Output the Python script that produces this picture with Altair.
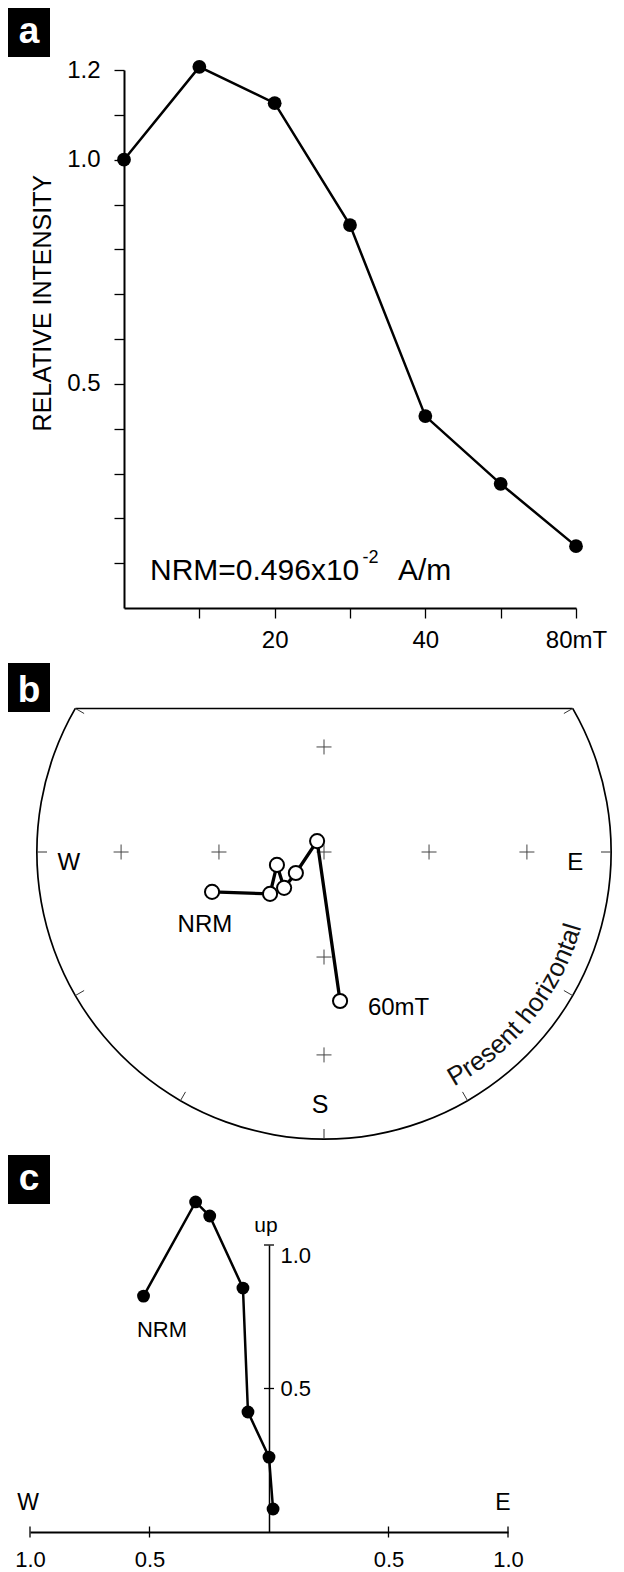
import math
import pandas as pd
import altair as alt

FONT = "Liberation Sans"
W, H = 608, 1564  # drawing area (page minus left/top margin)

# ---------------- panel a : relative intensity during AF demagnetisation
a_step_index = [0, 1, 2, 3, 4, 5, 6]
a_rel_intensity = [1.0, 1.207, 1.126, 0.854, 0.428, 0.277, 0.138]
a_x_tick_values = [1, 2, 3, 4, 5, 6]
a_x_tick_labels = ["", "20", "", "40", "", "\u00a0\u00a080mT"]
a_y_tick_values = [0.1, 0.2, 0.3, 0.4, 0.5, 0.6, 0.7, 0.8, 0.9, 1.0, 1.1, 1.2]
a_y_tick_labels = ["", "", "", "", "0.5", "", "", "", "", "1.0", "", "1.2"]
a_y_title = "RELATIVE INTENSITY"
a_nrm_main = "NRM=0.496x10"
a_nrm_exp = "-2"
a_nrm_unit = "A/m"

# ---------------- panel b : equal-area projection (net units, radius 1)
b_east = [-0.390, -0.188, -0.164, -0.139, -0.098, -0.024, 0.056]
b_north = [-0.139, -0.146, -0.045, -0.125, -0.073, 0.038, -0.519]
b_grid_east = [-0.707, -0.366, 0.0, 0.366, 0.707, 0.0, 0.0, 0.0]
b_grid_north = [0.0, 0.0, 0.0, 0.0, 0.0, 0.366, -0.366, -0.707]
b_rim_tick_deg = [30, 0, -30, -60, -90, -120, -150, 180, 150]
b_first_label = "NRM"
b_last_label = "60mT"
b_rim_text = "Present horizontal"

# ---------------- panel c : vector end-point (E-W vs up)
c_east = [-0.525, -0.307, -0.248, -0.109, -0.088, 0.0, 0.017]
c_up = [0.822, 1.150, 1.101, 0.850, 0.418, 0.261, 0.080]
c_x_tick_values = [-1.0, -0.5, 0.0, 0.5, 1.0]
c_x_tick_labels = ["1.0", "0.5", "", "0.5", "1.0"]
c_y_tick_values = [0.5, 1.0]
c_y_tick_labels = ["0.5", "1.0"]


def label_expr(values, labels):
    expr = "''"
    for v, l in reversed(list(zip(values, labels))):
        expr = f"abs(datum.value - ({v})) < 1e-6 ? '{l}' : ({expr})"
    return expr


# scales (plot coordinates: page minus 8px)
XA = alt.Scale(domain=[0, 6], range=[116, 568], nice=False, zero=False)
YA = alt.Scale(domain=[0, 1.2], range=[600, 62], nice=False, zero=False)
XB = alt.Scale(domain=[-1, 1], range=[29, 603], nice=False, zero=False)
YB = alt.Scale(domain=[-1, 1], range=[1131, 557], nice=False, zero=False)
XC = alt.Scale(domain=[-1, 1], range=[22, 500], nice=False, zero=False)
YC = alt.Scale(domain=[0, 1], range=[1524, 1237], nice=False, zero=False)


def txt(xs, ys, x, y, t, size, align="center", baseline="alphabetic", **kw):
    df = pd.DataFrame({"x": [x], "y": [y], "t": [t]})
    return alt.Chart(df).mark_text(
        font=FONT, fontSize=size, align=align, baseline=baseline, color="black", **kw
    ).encode(
        x=alt.X("x:Q", scale=xs, axis=None),
        y=alt.Y("y:Q", scale=ys, axis=None),
        text="t:N",
    )


layers = []

# ======== panel a
dfa = pd.DataFrame({"step": a_step_index, "rel": a_rel_intensity})
axis_common = dict(grid=False, title=None, labelFont=FONT, labelColor="black",
                   domainColor="black", tickColor="black", labelOverlap=False)
a_line = alt.Chart(dfa).mark_line(color="black", strokeWidth=2.5).encode(
    x=alt.X("step:Q", scale=XA, axis=alt.Axis(
        orient="bottom", offset=-(H - 600), values=a_x_tick_values,
        labelExpr=label_expr(a_x_tick_values, a_x_tick_labels),
        tickSize=10, tickWidth=1.3, domainWidth=2, labelPadding=29,
        labelBaseline="alphabetic", labelFlush=False, labelFontSize=24, **axis_common)),
    y=alt.Y("rel:Q", scale=YA, axis=alt.Axis(
        orient="left", offset=-116, values=a_y_tick_values,
        labelExpr=label_expr(a_y_tick_values, a_y_tick_labels),
        tickSize=10, tickWidth=1.3, domainWidth=2, labelPadding=14,
        labelFontSize=24, **axis_common)),
    order="step:Q",
)
a_pts = alt.Chart(dfa).mark_point(filled=True, size=190, color="black", opacity=1).encode(
    x=alt.X("step:Q", scale=XA, axis=None),
    y=alt.Y("rel:Q", scale=YA, axis=None),
)
layers += [a_line, a_pts]
layers.append(txt(XA, YA, -1.075, 0.680, a_y_title, 25, baseline="middle", angle=270))
layers.append(txt(XA, YA, 0.345, 0.0625, a_nrm_main, 30, align="left"))
layers.append(txt(XA, YA, 3.165, 0.100, a_nrm_exp, 18, align="left"))
layers.append(txt(XA, YA, 3.637, 0.0625, a_nrm_unit, 30, align="left"))

# ======== panel b
center = pd.DataFrame({"cx": [0.0], "cy": [0.0]})
rim = alt.Chart(center).mark_arc(
    radius=288, radius2=286.3, theta=math.pi / 3, theta2=5 * math.pi / 3, color="black"
).encode(
    x=alt.X("cx:Q", scale=XB, axis=None),
    y=alt.Y("cy:Q", scale=YB, axis=None),
)
chord_df = pd.DataFrame({"x1": [-math.cos(math.radians(30))], "x2": [math.cos(math.radians(30))],
                         "y1": [math.sin(math.radians(30))]})
chord = alt.Chart(chord_df).mark_rule(color="black", strokeWidth=1.6).encode(
    x=alt.X("x1:Q", scale=XB, axis=None), x2="x2:Q",
    y=alt.Y("y1:Q", scale=YB, axis=None), y2="y1:Q",
)
tick_in = 1 - 10 / 287
rt = pd.DataFrame({
    "x1": [math.cos(math.radians(d)) for d in b_rim_tick_deg],
    "y1": [math.sin(math.radians(d)) for d in b_rim_tick_deg],
    "x2": [tick_in * math.cos(math.radians(d)) for d in b_rim_tick_deg],
    "y2": [tick_in * math.sin(math.radians(d)) for d in b_rim_tick_deg],
})
rim_ticks = alt.Chart(rt).mark_rule(color="#333", strokeWidth=1).encode(
    x=alt.X("x1:Q", scale=XB, axis=None), x2="x2:Q",
    y=alt.Y("y1:Q", scale=YB, axis=None), y2="y2:Q",
)
grid = alt.Chart(pd.DataFrame({"e": b_grid_east, "n": b_grid_north})).mark_point(
    shape="M-1,0L1,0M0,-1L0,1", size=225, filled=False, color="#444", strokeWidth=1, opacity=1
).encode(
    x=alt.X("e:Q", scale=XB, axis=None),
    y=alt.Y("n:Q", scale=YB, axis=None),
)
dfb = pd.DataFrame({"i": list(range(len(b_east))), "e": b_east, "n": b_north})
b_line = alt.Chart(dfb).mark_line(color="black", strokeWidth=3.3).encode(
    x=alt.X("e:Q", scale=XB, axis=None),
    y=alt.Y("n:Q", scale=YB, axis=None),
    order="i:Q",
)
b_pts = alt.Chart(dfb).mark_point(filled=True, fill="white", stroke="black", strokeWidth=2,
                                  size=200, opacity=1).encode(
    x=alt.X("e:Q", scale=XB, axis=None),
    y=alt.Y("n:Q", scale=YB, axis=None),
)
layers += [rim, chord, rim_ticks, grid, b_line, b_pts]
layers.append(txt(XB, YB, -0.889, -0.063, "W", 24))
layers.append(txt(XB, YB, 0.875, -0.063, "E", 24))
layers.append(txt(XB, YB, -0.014, -0.909, "S", 25))
layers.append(txt(XB, YB, -0.415, -0.279, b_first_label, 24))
layers.append(txt(XB, YB, 0.153, -0.568, b_last_label, 24, align="left"))

# text along the rim
widths = {"P": 667, "r": 333, "e": 556, "s": 500, "n": 556, "t": 278, " ": 278,
          "h": 556, "o": 556, "i": 222, "z": 500, "a": 556, "l": 222}
fs_rim = 26
R_px, rb_px = 287.0, 268.0
phi0 = math.radians(-61)
rows, s = [], 0.0
for ch in b_rim_text:
    w = widths.get(ch, 556) / 1000 * fs_rim
    ang = phi0 + (s + w / 2) / rb_px
    rows.append({"ch": ch,
                 "x": rb_px * math.cos(ang) / R_px,
                 "y": rb_px * math.sin(ang) / R_px,
                 "ang": math.degrees(math.atan2(-math.cos(ang), -math.sin(ang))) % 360})
    s += w
ph = alt.Chart(pd.DataFrame(rows)).mark_text(
    font=FONT, fontSize=fs_rim, align="center", baseline="alphabetic", color="#111"
).encode(
    x=alt.X("x:Q", scale=XB, axis=None),
    y=alt.Y("y:Q", scale=YB, axis=None),
    text="ch:N",
    angle=alt.Angle("ang:Q", scale=None),
)
layers.append(ph)

# ======== panel c
dfc = pd.DataFrame({"i": list(range(len(c_east))), "e": c_east, "u": c_up})
c_line = alt.Chart(dfc).mark_line(color="black", strokeWidth=2.5).encode(
    x=alt.X("e:Q", scale=XC, axis=alt.Axis(
        orient="bottom", offset=-(H - 1524), values=c_x_tick_values,
        labelExpr=label_expr(c_x_tick_values, c_x_tick_labels),
        ticks=False, domainWidth=1.8, labelPadding=34, labelBaseline="alphabetic",
        labelFlush=False, labelFontSize=22, **axis_common)),
    y=alt.Y("u:Q", scale=YC, axis=alt.Axis(
        orient="right", offset=261 - W, values=c_y_tick_values,
        labelExpr=label_expr(c_y_tick_values, c_y_tick_labels),
        ticks=False, domainWidth=1.5, labelPadding=11, labelFlush=True,
        labelFontSize=22, **axis_common)),
    order="i:Q",
)
c_pts = alt.Chart(dfc).mark_point(filled=True, size=165, color="black", opacity=1).encode(
    x=alt.X("e:Q", scale=XC, axis=None),
    y=alt.Y("u:Q", scale=YC, axis=None),
)
cxt = alt.Chart(pd.DataFrame({"v": [v for v in c_x_tick_values if v != 0], "z": 0.0})).mark_tick(
    orient="vertical", size=11, thickness=1.3, color="black", opacity=1
).encode(
    x=alt.X("v:Q", scale=XC, axis=None),
    y=alt.Y("z:Q", scale=YC, axis=None),
)
cyt = alt.Chart(pd.DataFrame({"v": c_y_tick_values, "z": 0.0})).mark_tick(
    orient="horizontal", size=10, thickness=1.3, color="black", opacity=1
).encode(
    x=alt.X("z:Q", scale=XC, axis=None),
    y=alt.Y("v:Q", scale=YC, axis=None),
)
layers += [c_line, cxt, cyt, c_pts]
layers.append(txt(XC, YC, -0.448, 0.679, "NRM", 22))
layers.append(txt(XC, YC, -0.0126, 1.045, "up", 21))
layers.append(txt(XC, YC, -1.008, 0.0767, "W", 23))
layers.append(txt(XC, YC, 0.979, 0.0767, "E", 23))

# ======== panel letters (black boxes)
one = pd.DataFrame({"k": [0]})
for letter, y0, base in [("a", 0, 35), ("b", 655, 694), ("c", 1147, 1182)]:
    layers.append(alt.Chart(one).mark_rect(color="black").encode(
        x=alt.value(0), x2=alt.value(42), y=alt.value(y0), y2=alt.value(y0 + 49)))
    layers.append(alt.Chart(one).mark_text(
        text=letter, font=FONT, fontSize=37, fontWeight="bold", color="white",
        align="center", baseline="alphabetic").encode(x=alt.value(21), y=alt.value(base)))

chart = alt.layer(*layers).resolve_scale(x="independent", y="independent").properties(
    width=W, height=H, autosize=alt.AutoSizeParams(type="none"), padding=0
).configure_view(stroke="transparent")

chart.save("out.html", embed_options={"renderer": "svg", "actions": False})
